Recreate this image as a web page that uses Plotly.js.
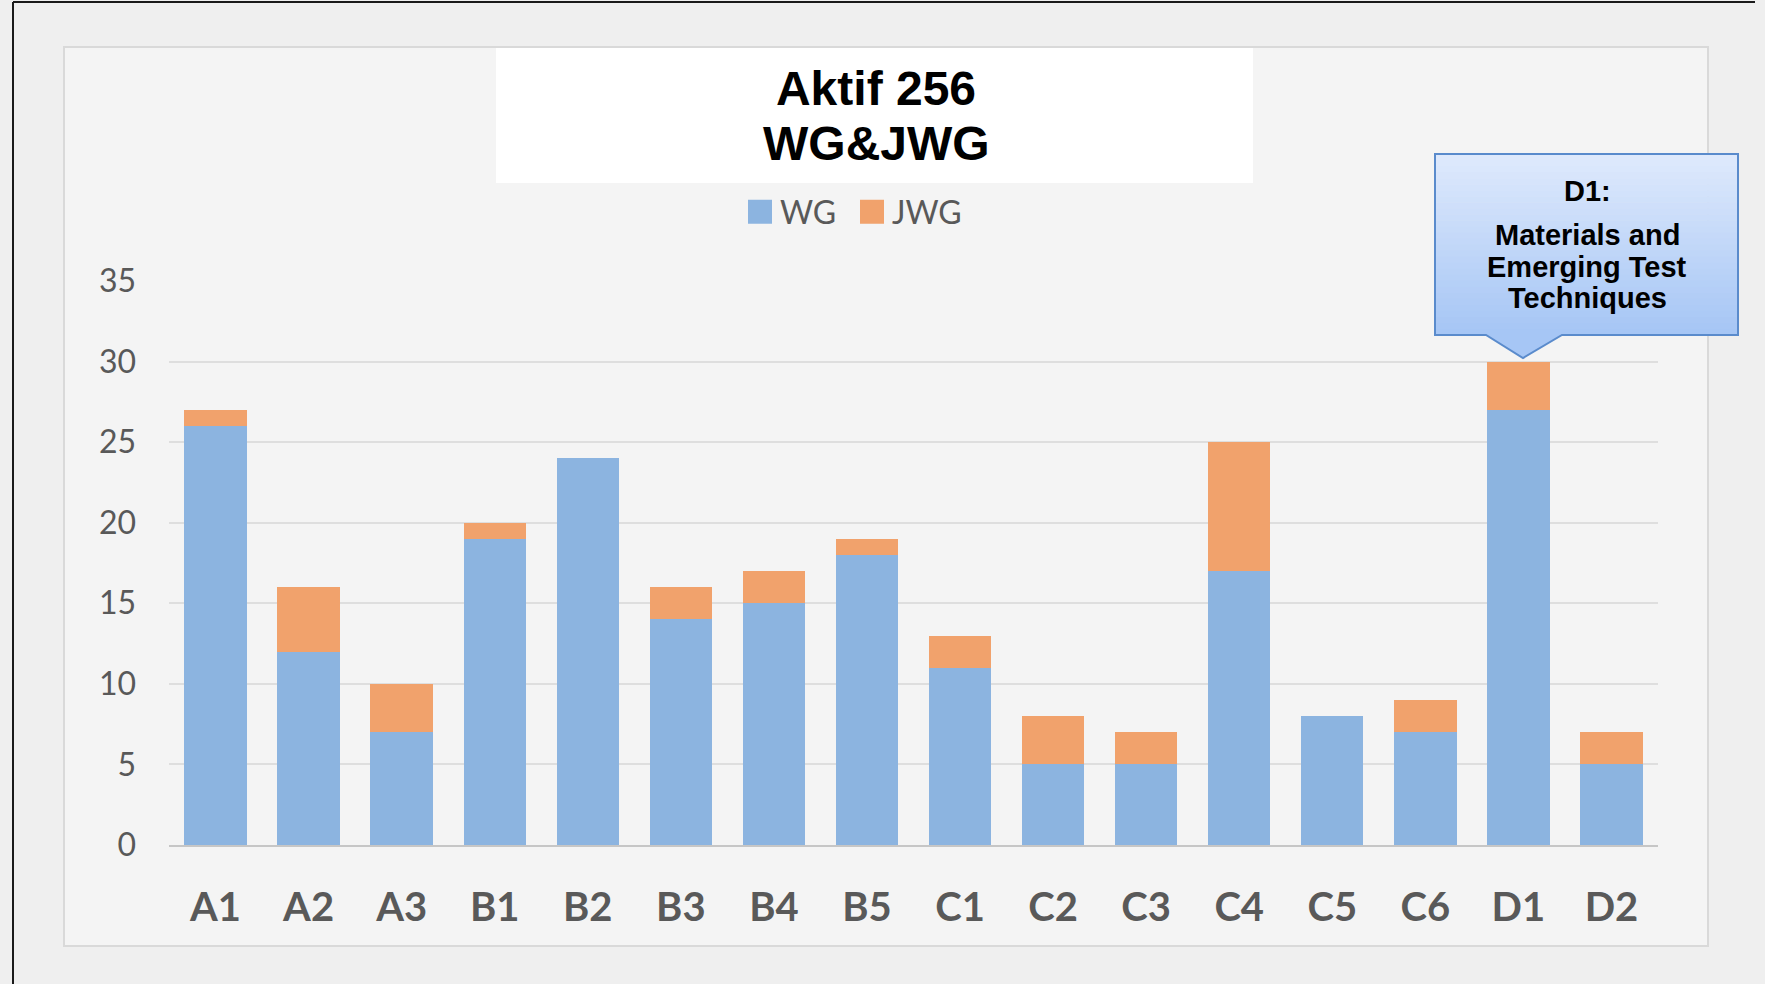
<!DOCTYPE html>
<html>
<head>
<meta charset="utf-8">
<script src="https://cdn.plot.ly/plotly-3.0.1.min.js"></script>
<style>
  html, body { margin: 0; padding: 0; background: #efefef; }
  #chart { width: 1765px; height: 984px; }
  /* larger legend swatches, like the reference */
  #chart .legend .legendpoints path { d: path("M12,12H-12V-12H12Z"); }
</style>
</head>
<body>
<div id="chart"></div>
<script>
// ---- Data ----
const categories = ['A1','A2','A3','B1','B2','B3','B4','B5','C1','C2','C3','C4','C5','C6','D1','D2'];
const wgValues  = [26, 12, 7, 19, 24, 14, 15, 18, 11, 5, 5, 17, 8, 7, 27, 5];
const jwgValues = [ 1,  4, 3,  1,  0,  2,  2,  1,  2, 3, 2,  8, 0, 2,  3, 2];
const seriesNames = ['WG', 'JWG'];
const titleLines = ['Aktif 256', 'WG&JWG'];
const calloutLines = ['D1:', 'Materials and', 'Emerging Test', 'Techniques'];
const yTicks = [0, 5, 10, 15, 20, 25, 30, 35];

// ---- Geometry (pixels) ----
const W = 1765, H = 984;
const ML = 169, MR = 107, MT = 281, MB = 139;
const PW = W - ML - MR, PH = H - MT - MB;
const px = x => (x - ML) / PW;          // pixel x -> paper x
const py = y => (H - MB - y) / PH;      // pixel y -> paper y

const blue = '#8cb4e0', orange = '#f1a26c';

const traces = [
  { type: 'bar', name: seriesNames[0], x: categories, y: wgValues,
    marker: { color: blue, line: { width: 0 } }, hoverinfo: 'x+y+name' },
  { type: 'bar', name: seriesNames[1], x: categories, y: jwgValues,
    marker: { color: orange, line: { width: 0 } }, hoverinfo: 'x+y+name' }
];

const shapes = [];
// inner chart panel
shapes.push({ type: 'rect', xref: 'paper', yref: 'paper', layer: 'below',
  x0: px(64), x1: px(1708), y0: py(946), y1: py(47),
  fillcolor: '#f4f4f4', line: { color: '#d9d9d9', width: 2 } });
// white title box
shapes.push({ type: 'rect', xref: 'paper', yref: 'paper', layer: 'below',
  x0: px(496), x1: px(1253), y0: py(183), y1: py(48),
  fillcolor: '#ffffff', line: { width: 0 } });
// outer black frame (left + top)
shapes.push({ type: 'line', xref: 'paper', yref: 'paper', layer: 'above',
  x0: px(13), x1: px(13), y0: py(984), y1: py(2), line: { color: '#1a1a1a', width: 2 } });
shapes.push({ type: 'line', xref: 'paper', yref: 'paper', layer: 'above',
  x0: px(13), x1: px(1755), y0: py(2), y1: py(2), line: { color: '#1a1a1a', width: 2 } });

// callout with vertical gradient
const bx0 = 1435, bx1 = 1738, by0 = 154, by1 = 335;
const gradTop = [222, 233, 252], gradBot = [166, 198, 245];
const nBands = 30;
for (let i = 0; i < nBands; i++) {
  const t = i / (nBands - 1);
  const c = gradTop.map((v, k) => Math.round(v + (gradBot[k] - v) * t));
  const ya = by0 + (by1 - by0) * i / nBands;
  const yb = by0 + (by1 - by0) * (i + 1) / nBands + 0.5;
  shapes.push({ type: 'rect', xref: 'paper', yref: 'paper', layer: 'above',
    x0: px(bx0), x1: px(bx1), y0: py(yb), y1: py(ya),
    fillcolor: `rgb(${c[0]},${c[1]},${c[2]})`, line: { width: 0 } });
}
const P = (x, y) => `${px(x)},${py(y)}`;
shapes.push({ type: 'path', xref: 'paper', yref: 'paper', layer: 'above',
  path: `M${P(1486, by1 - 0.5)} L${P(1523, 358)} L${P(1562, by1 - 0.5)} Z`,
  fillcolor: 'rgb(166,198,245)', line: { width: 0 } });
shapes.push({ type: 'path', xref: 'paper', yref: 'paper', layer: 'above',
  path: `M${P(bx0, by0)} L${P(bx1, by0)} L${P(bx1, by1)} L${P(1562, by1)} L${P(1523, 358)} L${P(1486, by1)} L${P(bx0, by1)} Z`,
  fillcolor: 'rgba(0,0,0,0)', line: { color: '#5a8bcc', width: 2 } });

const annotations = [];
const calloutY = [191, 235, 267, 298];
calloutLines.forEach((t, i) => {
  annotations.push({ text: t, xref: 'paper', yref: 'paper', x: px(1587), y: py(calloutY[i]),
    xanchor: 'center', yanchor: 'middle', showarrow: false,
    font: { family: 'Arial, Liberation Sans, sans-serif', size: 29, color: '#000', weight: 'bold' } });
});
// second title line
const titleFont = { family: 'Arial, Liberation Sans, sans-serif', size: 48, color: '#000', weight: 'bold' };
annotations.push({ text: titleLines[1], xref: 'paper', yref: 'paper', x: px(876), y: py(144),
  xanchor: 'center', yanchor: 'middle', showarrow: false, font: titleFont });

const layout = {
  width: W, height: H,
  margin: { l: ML, r: MR, t: MT, b: MB, pad: 0 },
  paper_bgcolor: '#efefef',
  plot_bgcolor: 'rgba(0,0,0,0)',
  barmode: 'stack',
  bargap: 0.33,
  title: {
    text: titleLines[0],
    xref: 'container', yref: 'container',
    x: 876 / W, xanchor: 'center',
    y: 1 - 88 / H, yanchor: 'middle',
    font: titleFont
  },
  showlegend: true,
  legend: {
    orientation: 'h',
    traceorder: 'normal',
    x: px(852), xanchor: 'center',
    y: py(212), yanchor: 'middle',
    entrywidth: 67, entrywidthmode: 'pixels',
    bgcolor: 'rgba(0,0,0,0)',
    font: { family: 'Lato, Open Sans, sans-serif', size: 32, color: '#595959' },
    itemclick: false, itemdoubleclick: false
  },
  xaxis: {
    type: 'category',
    showgrid: false,
    showline: true, linecolor: '#c6c6c6', linewidth: 2,
    ticks: '',
    ticklabelstandoff: 26,
    tickfont: { family: 'Lato, Open Sans, sans-serif', size: 40, color: '#595959', weight: 'bold' },
    fixedrange: true
  },
  yaxis: {
    range: [0, 35],
    tickvals: yTicks,
    ticktext: yTicks.map(String),
    showgrid: true, gridcolor: '#dedede', gridwidth: 1.5,
    zeroline: false,
    showline: false,
    ticks: '',
    ticklabelstandoff: 32,
    tickfont: { family: 'Lato, Open Sans, sans-serif', size: 32, color: '#595959' },
    fixedrange: true
  },
  shapes: shapes,
  annotations: annotations
};

function enlargeLegendSymbols(gd) {
  gd.querySelectorAll('.legend .legendpoints path').forEach(p => {
    p.setAttribute('d', 'M12,12H-12V-12H12Z');
  });
}

Plotly.newPlot('chart', traces, layout, { displayModeBar: false }).then(gd => {
  enlargeLegendSymbols(gd);
  gd.on('plotly_afterplot', () => enlargeLegendSymbols(gd));
});
</script>
</body>
</html>
